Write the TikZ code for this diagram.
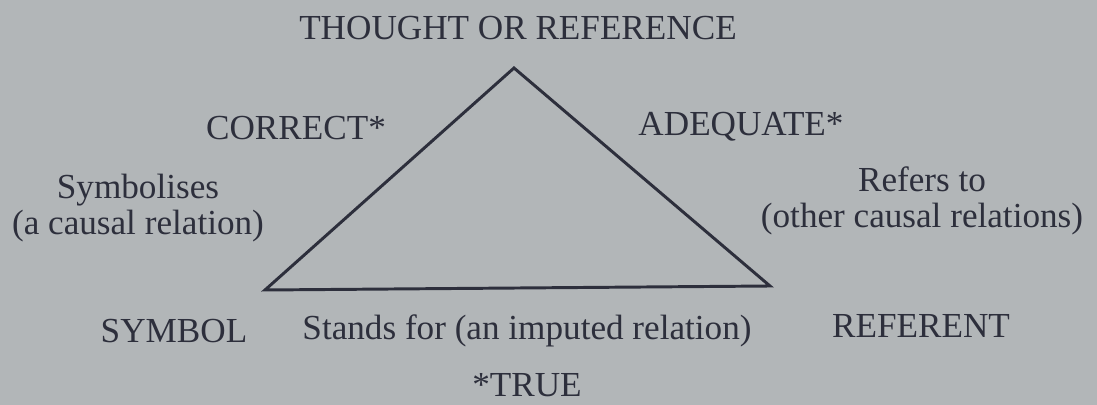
\documentclass[tikz,border=0pt]{standalone}
\usepackage{fontspec}
\setmainfont{Liberation Serif}
\usepackage{xcolor}
\usetikzlibrary{positioning}
\definecolor{cPage}{RGB}{178,182,184}
\definecolor{cInk}{RGB}{45,47,60}

\begin{document}
\begin{tikzpicture}[x=0.025cm, y=-0.025cm, line join=miter,
                    every node/.style={text=cInk, font=\fontsize{25}{25.5}\selectfont},
                    label/.style={align=center, inner sep=0pt}]

    % Page background
    \fill[cPage] (0,0) rectangle (1097,405);
    \useasboundingbox (0,0) rectangle (1097,405);

    % Corners of the triangle
    \coordinate (apex)  at (514, 68);
    \coordinate (left)  at (265, 290);
    \coordinate (right) at (770, 286);

    \draw[cInk, line width=2.1pt] (left) -- (apex) -- (right) -- cycle;

    % Labels
    \node[label] (thought)  at (518, 28)  {THOUGHT OR REFERENCE};
    \node[label] (correct)  at (296, 128) {CORRECT*};
    \node[label] (adequate) at (741, 127) {ADEQUATE*};
    \node[label] (symbolises) at (138, 208) {Symbolises\\(a causal relation)};
    \node[label] (refers)   at (922, 201) {Refers to\\(other causal relations)};
    \node[label] (symbol)   at (174, 331) {SYMBOL};
    \node[label] (stands)   at (527, 331) {Stands for (an imputed relation)};
    \node[label] (referent) at (921, 326) {REFERENT};
    \node[label] (true)     at (527, 385) {*TRUE};

\end{tikzpicture}
\end{document}
